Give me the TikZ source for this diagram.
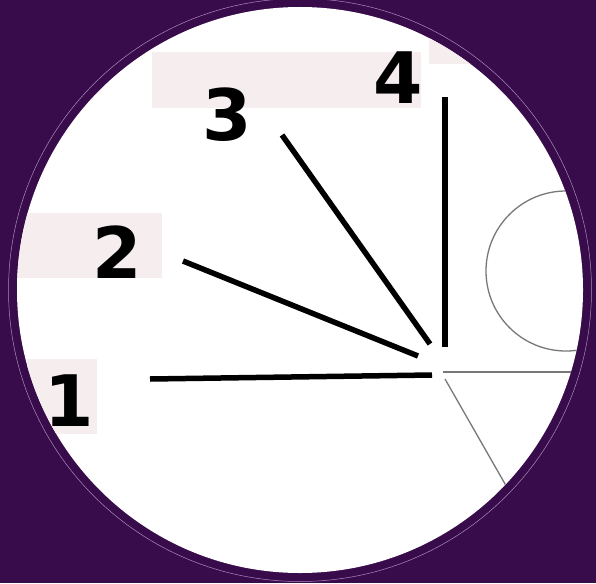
\documentclass[tikz,border=0pt]{standalone}
\usepackage{fontspec}
\setmainfont{DejaVu Sans}
\usetikzlibrary{positioning}
\definecolor{LensPurple}{RGB}{56,11,74}
\definecolor{LensRing}{RGB}{170,140,190}
\definecolor{TagPink}{RGB}{245,237,238}
\definecolor{SketchGray}{RGB}{120,120,120}

\begin{document}
\begin{tikzpicture}[x=1pt,y=-1pt,
  digit/.style={font=\bfseries\fontsize{71}{71}\selectfont, inner sep=0pt, anchor=base},
  spoke/.style={line width=5.5pt, black},
  faint/.style={line width=1.3pt, SketchGray}]
  \fill[LensPurple] (0,0) rectangle (596,583);
  \useasboundingbox (0,0) rectangle (596,583);
  \draw[LensRing, line width=0.5pt] (300,290) circle (291.5pt);
  \fill[white] (300,290) circle (283pt);
  \begin{scope}
    \clip (300,290) circle (283pt);
    % tag backgrounds
    \fill[TagPink] (27,359) rectangle (97,434);
    \fill[TagPink] (5,213) rectangle (162,278);
    \fill[TagPink] (152,52) rectangle (421,108);
    \fill[TagPink] (429,0) rectangle (700,64);
    % faint sketch on the right
    \draw[faint] (566,271) circle (80pt);
    \coordinate (hubA) at (443,372);
    \coordinate (hubB) at (445,379);
    \coordinate (farA) at (620,372);
    \coordinate (farB) at (560,580);
    \draw[faint] (hubA) -- (farA);
    \draw[faint] (hubB) -- (farB);
    % spokes
    \coordinate (s1) at (150,379); \coordinate (e1) at (432,375);
    \coordinate (s2) at (183,261); \coordinate (e2) at (418,356);
    \coordinate (s3) at (282,135); \coordinate (e3) at (430,344);
    \coordinate (s4) at (445,97);  \coordinate (e4) at (445,347);
    \draw[spoke] (s1) -- (e1);
    \draw[spoke] (s2) -- (e2);
    \draw[spoke] (s3) -- (e3);
    \draw[spoke] (s4) -- (e4);
    % labels
    \node[digit] (one) at (69,426) {1};
    \node[digit] (two) at (117.5,278) {2};
    \node[digit] (three) at (227.5,140) {3};
    \node[digit] (four) at (398,103) {4};
  \end{scope}
\end{tikzpicture}
\end{document}
